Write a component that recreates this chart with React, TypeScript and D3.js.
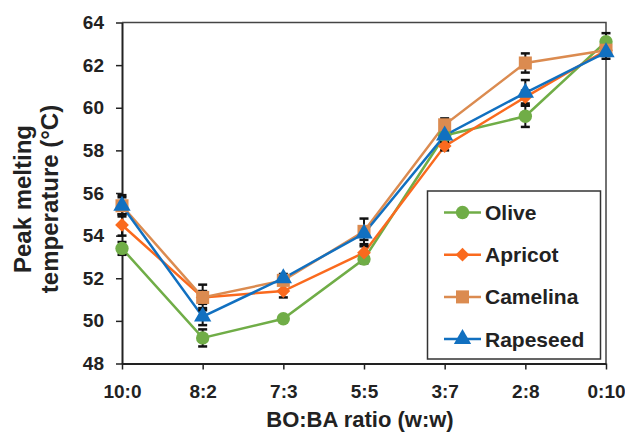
import React, { useEffect, useRef } from 'react';
import * as d3 from 'd3';

// BO:BA ratio categories
const ratios = ['10:0', '8:2', '7:3', '5:5', '3:7', '2:8', '0:10'];
const yTicks = [48, 50, 52, 54, 56, 58, 60, 62, 64];

// peak melting temperature (°C)
const olive = [53.4, 49.2, 50.1, 52.9, 58.7, 59.6, 63.1];
const apricot = [54.5, 51.1, 51.4, 53.2, 58.2, 60.5, 62.7];
const camelina = [55.4, 51.1, 51.9, 54.2, 59.2, 62.1, 62.7];
const rapeseed = [55.4, 50.2, 52.0, 54.1, 58.7, 60.7, 62.6];

// standard deviations (error bars)
const oliveErr = [0.3, 0.4, 0.1, 0.2, 0.2, 0.5, 0.4];
const apricotErr = [0.5, 0.3, 0.3, 0.3, 0.2, 0.3, 0.2];
const camelinaErr = [0.5, 0.6, 0.2, 0.6, 0.3, 0.45, 0.2];
const rapeseedErr = [0.4, 0.4, 0.2, 0.3, 0.2, 0.6, 0.3];

const seriesNames = ['Olive', 'Apricot', 'Camelina', 'Rapeseed'];

// rot: the apricot diamond is a square turned 45°
const series = [
  { name: seriesNames[0], values: olive, err: oliveErr, color: '#70ad47', symbol: d3.symbolCircle, size: 140, rot: 0 },
  { name: seriesNames[1], values: apricot, err: apricotErr, color: '#fa6a1e', symbol: d3.symbolSquare, size: 95, rot: 45 },
  { name: seriesNames[2], values: camelina, err: camelinaErr, color: '#db8b50', symbol: d3.symbolSquare, size: 170, rot: 0 },
  { name: seriesNames[3], values: rapeseed, err: rapeseedErr, color: '#1170c0', symbol: d3.symbolTriangle, size: 130, rot: 0 },
];

const font = '"Liberation Sans", Arial, sans-serif';

export default function App() {
  const ref = useRef<SVGSVGElement>(null);

  useEffect(() => {
    const svg = d3.select(ref.current);
    svg.selectAll('*').remove();

    const left = 122, right = 606, top = 22.5, bottom = 363.5;

    const x = d3.scalePoint().domain(ratios).range([left, right]);
    const y = d3.scaleLinear().domain([48, 64]).range([bottom, top]);

    // frame (top & right)
    svg.append('path')
      .attr('d', `M${left},${top}H${right}V${bottom}`)
      .attr('fill', 'none')
      .attr('stroke', '#444')
      .attr('stroke-width', 1.5);

    // y axis
    const yAxis = svg.append('g')
      .attr('transform', `translate(${left},0)`)
      .call(d3.axisLeft(y).tickValues(yTicks).tickSize(6).tickSizeOuter(0).tickPadding(12));
    yAxis.select('.domain').attr('stroke', '#222').attr('stroke-width', 2);
    yAxis.selectAll('.tick line').attr('stroke', '#222').attr('stroke-width', 1.5);
    yAxis.selectAll('text')
      .attr('font-family', font).attr('font-size', 19).attr('font-weight', 'bold').attr('fill', '#222');

    // x axis
    const xAxis = svg.append('g')
      .attr('transform', `translate(0,${bottom})`)
      .call(d3.axisBottom(x).tickSize(6).tickSizeOuter(0).tickPadding(15));
    xAxis.select('.domain').attr('stroke', '#222').attr('stroke-width', 2);
    xAxis.selectAll('.tick line').attr('stroke', '#222').attr('stroke-width', 1.5);
    xAxis.selectAll('text')
      .attr('font-family', font).attr('font-size', 19).attr('font-weight', 'bold').attr('fill', '#222');

    // axis titles
    svg.append('text')
      .attr('x', 360).attr('y', 427)
      .attr('text-anchor', 'middle')
      .attr('font-family', font).attr('font-size', 22).attr('font-weight', 'bold').attr('fill', '#222')
      .text('BO:BA ratio (w:w)');

    const yt = svg.append('text')
      .attr('transform', 'translate(0,199) rotate(-90)')
      .attr('text-anchor', 'middle')
      .attr('font-family', font).attr('font-size', 24).attr('font-weight', 'bold').attr('fill', '#222');
    yt.append('tspan').attr('x', 0).attr('y', 31).text('Peak melting');
    yt.append('tspan').attr('x', 0).attr('y', 58).text('temperature (°C)');

    const line = d3.line<number>()
      .x((d, i) => x(ratios[i]) as number)
      .y(d => y(d));

    // lines
    series.forEach(s => {
      svg.append('path')
        .datum(s.values)
        .attr('d', line)
        .attr('fill', 'none')
        .attr('stroke', s.color)
        .attr('stroke-width', 2.5);
    });

    // error bars
    series.forEach(s => {
      const g = svg.append('g').attr('stroke', '#111').attr('stroke-width', 2);
      s.values.forEach((v, i) => {
        const cx = x(ratios[i]) as number;
        const y1 = y(v + s.err[i]);
        const y2 = y(v - s.err[i]);
        g.append('line').attr('x1', cx).attr('x2', cx).attr('y1', y1).attr('y2', y2);
        g.append('line').attr('x1', cx - 4.5).attr('x2', cx + 4.5).attr('y1', y1).attr('y2', y1).attr('stroke-width', 2.5);
        g.append('line').attr('x1', cx - 4.5).attr('x2', cx + 4.5).attr('y1', y2).attr('y2', y2).attr('stroke-width', 2.5);
      });
    });

    // markers
    series.forEach(s => {
      const sym = d3.symbol().type(s.symbol).size(s.size);
      svg.append('g').selectAll('path')
        .data(s.values)
        .enter()
        .append('path')
        .attr('d', sym)
        .attr('transform', (d, i) => `translate(${x(ratios[i])},${y(d)}) rotate(${s.rot})`)
        .attr('fill', s.color);
    });

    // legend
    const lg = svg.append('g');
    lg.append('rect')
      .attr('x', 427.5).attr('y', 191).attr('width', 173).attr('height', 168)
      .attr('fill', 'white').attr('stroke', '#333').attr('stroke-width', 1.5);
    series.forEach((s, i) => {
      const ly = 212.5 + i * 42.2;
      lg.append('line')
        .attr('x1', 444).attr('x2', 481).attr('y1', ly).attr('y2', ly)
        .attr('stroke', s.color).attr('stroke-width', 2.5);
      lg.append('path')
        .attr('d', d3.symbol().type(s.symbol).size(s.size)())
        .attr('transform', `translate(462.5,${ly}) rotate(${s.rot})`)
        .attr('fill', s.color);
      lg.append('text')
        .attr('x', 485).attr('y', ly + 7.5)
        .attr('font-family', font).attr('font-size', 21).attr('font-weight', 'bold').attr('fill', '#222')
        .text(s.name);
    });
  }, []);

  return (
    <svg ref={ref} width={625} height={435} style={{ position: 'absolute', left: 0, top: 0, background: 'white' }} />
  );
}
